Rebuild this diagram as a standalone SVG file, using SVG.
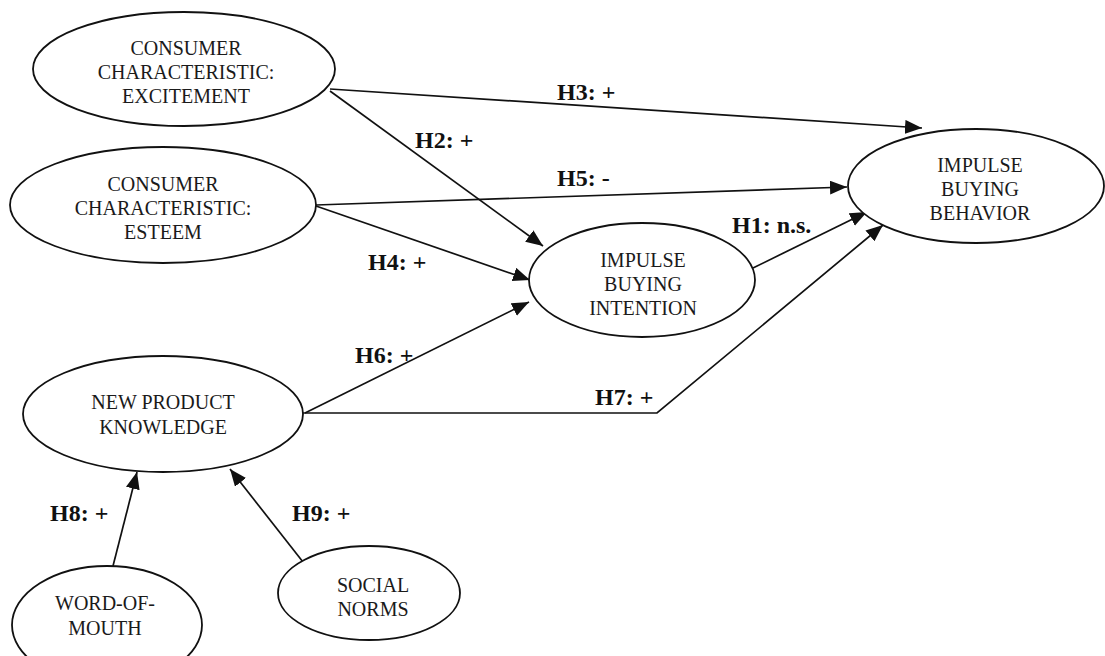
<svg xmlns="http://www.w3.org/2000/svg" width="1105" height="656" viewBox="0 0 1105 656">
<style>
.node ellipse{fill:#fff;stroke:#111;stroke-width:1.8}
.node text{font-family:"Liberation Serif","Times New Roman",serif;font-size:20px;fill:#1a1a1a;text-anchor:middle}
.edge{fill:none;stroke:#111;stroke-width:1.7;marker-end:url(#arr)}
.lbl{font-family:"Liberation Serif","Times New Roman",serif;font-size:24px;font-weight:bold;fill:#111}
</style>
<defs>
<marker id="arr" markerUnits="userSpaceOnUse" markerWidth="19" markerHeight="15" refX="17" refY="7" orient="auto">
<path d="M0,0 L17,7 L0,14 z" fill="#111"/>
</marker>
</defs>
<rect width="1105" height="656" fill="#fff"/>
<g id="connectors">
<line class="edge" x1="330" y1="89" x2="922" y2="128"/>
<line class="edge" x1="330" y1="91" x2="543" y2="246"/>
<line class="edge" x1="316" y1="205" x2="847" y2="187"/>
<line class="edge" x1="316" y1="206" x2="530" y2="280"/>
<line class="edge" x1="305" y1="413" x2="529" y2="302"/>
<polyline class="edge" points="303,413 657,413 883,225"/>
<line class="edge" x1="753" y1="268" x2="867" y2="212"/>
<line class="edge" x1="113" y1="566" x2="137" y2="472"/>
<line class="edge" x1="303" y1="562" x2="230" y2="469"/>
<text class="lbl" x="557" y="100">H3: +</text>
<text class="lbl" x="415" y="148">H2: +</text>
<text class="lbl" x="557" y="186">H5: -</text>
<text class="lbl" x="368" y="270">H4: +</text>
<text class="lbl" x="732" y="233">H1: n.s.</text>
<text class="lbl" x="355" y="363">H6: +</text>
<text class="lbl" x="595" y="405">H7: +</text>
<text class="lbl" x="50" y="521">H8: +</text>
<text class="lbl" x="292" y="521">H9: +</text>
</g>
<g id="excitement" class="node">
<ellipse cx="184" cy="69" rx="151" ry="57"/>
<text x="186" y="55">CONSUMER</text>
<text x="186" y="79">CHARACTERISTIC:</text>
<text x="186" y="103">EXCITEMENT</text>
</g>
<g id="esteem" class="node">
<ellipse cx="163" cy="205" rx="153" ry="58"/>
<text x="163" y="191">CONSUMER</text>
<text x="163" y="215">CHARACTERISTIC:</text>
<text x="163" y="239">ESTEEM</text>
</g>
<g id="intention" class="node">
<ellipse cx="642" cy="280" rx="113" ry="57"/>
<text x="643" y="267">IMPULSE</text>
<text x="643" y="291">BUYING</text>
<text x="643" y="315">INTENTION</text>
</g>
<g id="behavior" class="node">
<ellipse cx="976" cy="186" rx="128" ry="57"/>
<text x="980" y="172">IMPULSE</text>
<text x="980" y="196">BUYING</text>
<text x="980" y="220">BEHAVIOR</text>
</g>
<g id="knowledge" class="node">
<ellipse cx="163" cy="414" rx="140" ry="58"/>
<text x="163" y="409">NEW PRODUCT</text>
<text x="163" y="434">KNOWLEDGE</text>
</g>
<g id="wom" class="node">
<ellipse cx="107" cy="625" rx="95" ry="59"/>
<text x="105" y="610">WORD-OF-</text>
<text x="105" y="635">MOUTH</text>
</g>
<g id="norms" class="node">
<ellipse cx="369" cy="593" rx="91" ry="47"/>
<text x="373" y="592">SOCIAL</text>
<text x="373" y="616">NORMS</text>
</g>
</svg>
